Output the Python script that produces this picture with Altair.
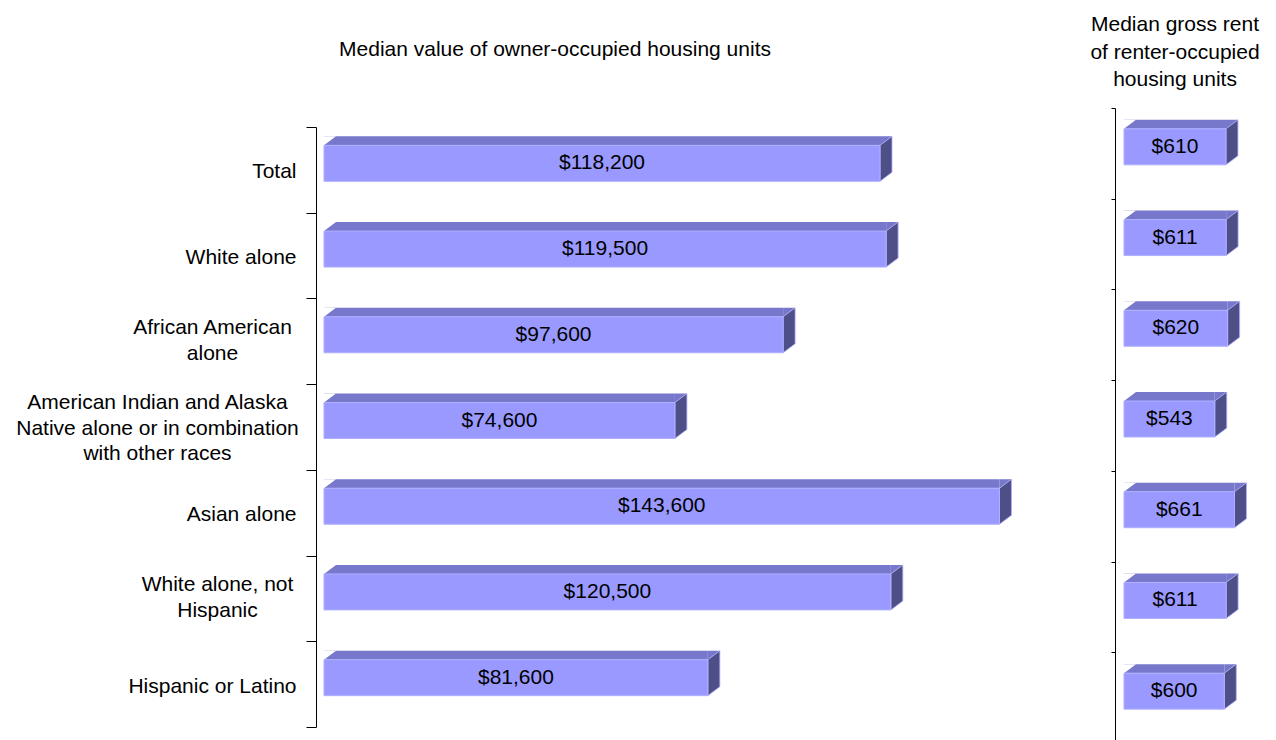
import altair as alt
import pandas as pd

# ---------------- data ----------------
categories = [
    "Total",
    "White alone",
    "African American|alone",
    "American Indian and Alaska|Native alone or in combination|with other races",
    "Asian alone",
    "White alone, not|Hispanic",
    "Hispanic or Latino",
]
home_values = [118200, 119500, 97600, 74600, 143600, 120500, 81600]
gross_rents = [610, 611, 620, 543, 661, 611, 600]

left_title = "Median value of owner-occupied housing units"
right_title = "Median gross rent|of renter-occupied|housing units"

df = pd.DataFrame({"cat": categories, "home": home_values, "rent": gross_rents})

# ---------------- styles ----------------
FONT = "Liberation Sans"
FS = 21
LH = 25.5
FRONT = "#9999FF"
TOP = "#7777CC"
SIDE = "#4F4F88"
EDGE = "#B0B0FF"

W, H = 1260, 732

# 3D pieces drawn as custom symbols (size=4 -> 1 unit = 1 px)
SIDE_PATH = "M0,-24.5L12,-33.5L12,2.5L0,11.5Z"
TRI_PATH = "M0,-24.5L0,-33.5L12,-33.5Z"


def panel(field, x_max, x_range, y_range, axis):
    xs = alt.Scale(domain=[0, x_max], range=x_range, nice=False, zero=True)
    ys = alt.Scale(domain=categories, range=y_range, paddingInner=0, paddingOuter=0)
    y = alt.Y("cat:N", sort=categories, scale=ys, axis=axis)
    base = alt.Chart(df).transform_calculate(
        mid=f"datum.{field} / 2", zero="0"
    )
    x_val = alt.X(f"{field}:Q", scale=xs, axis=None)
    x_mid = alt.X("mid:Q", scale=xs, axis=None)
    x_zero = alt.X("zero:Q", scale=xs, axis=None)

    top = base.mark_bar(height=9, yOffset=-29, color=TOP).encode(x=x_val, y=y)
    tri_r = base.mark_point(
        shape=TRI_PATH, size=4, filled=True, fill=TOP, opacity=1, strokeWidth=0
    ).encode(x=x_val, y=y)
    side = base.mark_point(
        shape=SIDE_PATH, size=4, filled=True, fill=SIDE, opacity=1,
        stroke=EDGE, strokeWidth=0.8,
    ).encode(x=x_val, y=y)
    tri_l = base.mark_point(
        shape=TRI_PATH, size=4, filled=True, fill="white", opacity=1, strokeWidth=0
    ).encode(x=x_zero, y=y)
    front = base.mark_bar(
        height=36, yOffset=-6.5, color=FRONT, stroke=EDGE, strokeWidth=1
    ).encode(x=x_val, y=y)
    text = base.mark_text(
        font=FONT, fontSize=FS, color="black", baseline="middle", align="center",
        yOffset=-6.5,
    ).encode(x=x_mid, y=y, text=alt.Text(f"{field}:Q", format="$,"))
    return alt.layer(top, tri_r, side, tri_l, front, text)


multi = "indexof(datum.label, '|') >= 0"
label_offset = {
    "condition": [
        {"test": "length(split(datum.label, '|')) == 3", "value": -LH + 1},
        {"test": "length(split(datum.label, '|')) == 2", "value": -LH / 2 - 1},
    ],
    "value": 2,
}
# multi-line labels are centred line by line, like the original
label_align = {"condition": {"test": multi, "value": "center"}, "value": "right"}
label_padding = {
    "condition": [
        {"test": "datum.label == 'African American|alone'", "value": 94},
        {"test": "length(split(datum.label, '|')) == 3", "value": 149},
        {"test": "datum.label == 'White alone, not|Hispanic'", "value": 89},
    ],
    "value": 10,
}

axis_left = alt.Axis(
    orient="left", offset=-308, domainColor="black", domainWidth=1,
    tickColor="black", tickSize=10, tickBand="extent", tickWidth=1,
    labelFont=FONT, labelFontSize=FS, labelColor="black",
    labelPadding=label_padding, labelAlign=label_align,
    labelLineHeight=LH, labelExpr="split(datum.label, '|')", labelLimit=500,
    labelOffset=label_offset,
    labelOverlap=False, title=None, grid=False,
)
axis_right = alt.Axis(
    orient="left", offset=-1107, domainColor="black", domainWidth=1,
    tickColor="black", tickSize=4, tickBand="extent", tickWidth=1,
    labels=False, title=None, grid=False,
)

left = panel("home", 150000, [316, 1021.6], [119, 719], axis_left)
right = panel("rent", 700, [1116, 1233], [100, 735], axis_right)

t_left = alt.Chart(pd.DataFrame({"t": [left_title]})).mark_text(
    font=FONT, fontSize=FS, color="black", align="center", baseline="middle"
).encode(text="t:N", x=alt.value(547), y=alt.value(42))

t_right = alt.Chart(pd.DataFrame({"t": [right_title]})).mark_text(
    font=FONT, fontSize=FS, color="black", align="center", baseline="middle",
    lineBreak="|", lineHeight=27.5,
).encode(text="t:N", x=alt.value(1167), y=alt.value(17))

chart = (
    alt.layer(left, right, t_left, t_right)
    .resolve_scale(x="independent", y="independent")
    .resolve_axis(x="independent", y="independent")
    .properties(
        width=W, height=H,
        autosize=alt.AutoSizeParams(type="none"),
        padding=0,
        background="white",
    )
    .configure_view(stroke=None)
)

chart.save("out.html", embed_options={"renderer": "svg", "actions": False})
